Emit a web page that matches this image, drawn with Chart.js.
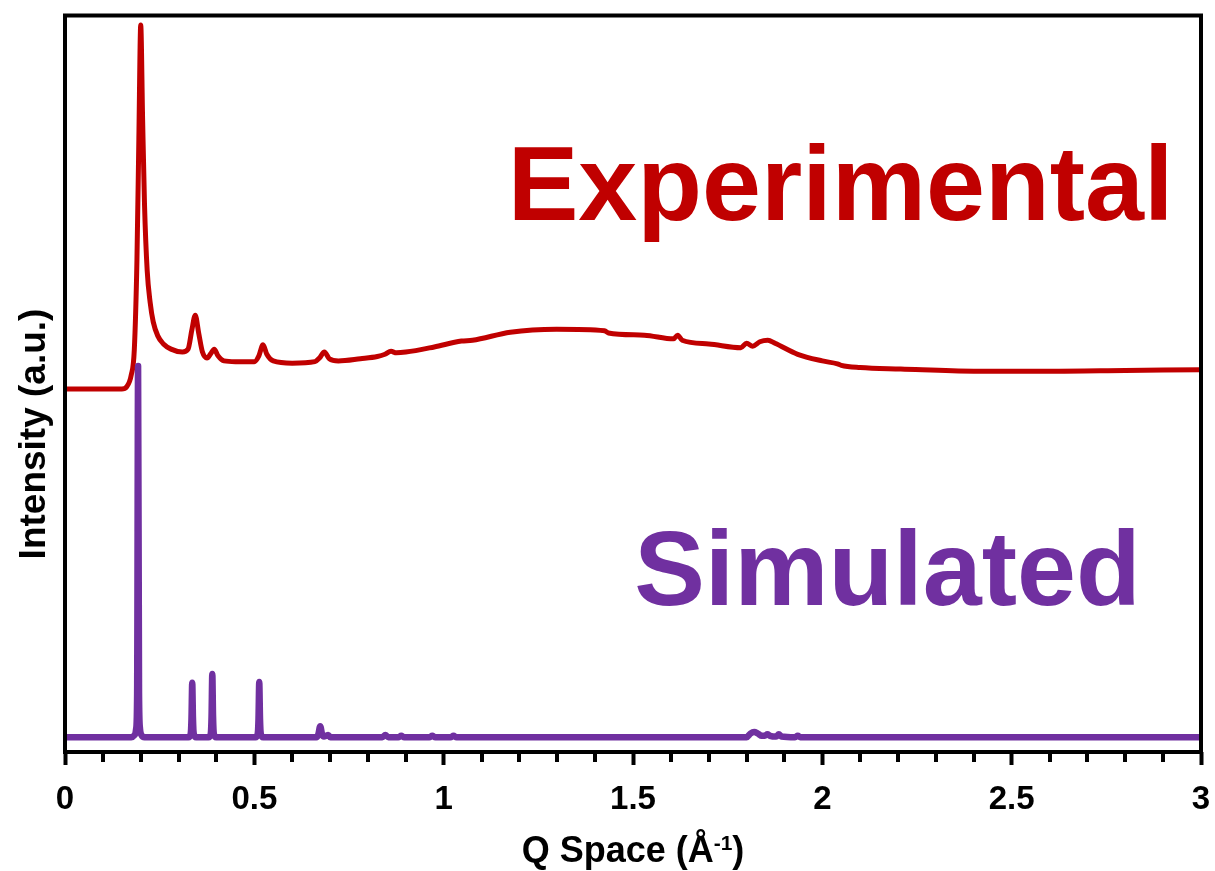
<!DOCTYPE html>
<html>
<head>
<meta charset="utf-8">
<title>Q Space patterns</title>
<script src="https://cdn.jsdelivr.net/npm/chart.js@4.4.1/dist/chart.umd.min.js"></script>
<style>
  html, body { margin: 0; padding: 0; background: #fff; }
  #wrap { width: 1215px; height: 871px; position: relative; }
</style>
</head>
<body>
<div id="wrap"><canvas id="pattern"></canvas></div>
<script>
// Experimental pattern: Q (1/Å) and intensity (a.u., offset above the simulated trace)
const qExp = [0, 0.15, 0.163, 0.175, 0.183, 0.19, 0.195, 0.2, 0.205, 0.21,
  0.217, 0.225, 0.233, 0.245, 0.26, 0.28, 0.31, 0.325, 0.335, 0.344,
  0.353, 0.363, 0.375, 0.385, 0.394, 0.404, 0.42, 0.45, 0.5, 0.512,
  0.523, 0.533, 0.55, 0.6, 0.66, 0.672, 0.685, 0.698, 0.722, 0.78,
  0.825, 0.845, 0.861, 0.875, 0.9, 0.975, 1.047, 1.076, 1.176, 1.298,
  1.425, 1.435, 1.53, 1.607, 1.618, 1.63, 1.7, 1.785, 1.8, 1.816,
  1.835, 1.856, 1.875, 1.935, 2.0, 2.04, 2.05, 2.1, 2.207, 2.4,
  2.6, 2.8, 3.0];
const intExp = [49.3, 49.3, 49.6, 51.2, 54.6, 66.8, 83.1, 98.7, 85.8, 74.3,
  65.4, 61.0, 58.4, 56.5, 55.4, 54.7, 54.3, 54.7, 57.3, 59.3,
  56.9, 54.3, 53.5, 54.1, 54.7, 53.8, 53.1, 53.0, 53.0, 53.8,
  55.3, 54.0, 53.1, 52.8, 53.0, 53.5, 54.3, 53.4, 53.1, 53.4,
  53.7, 54.0, 54.4, 54.2, 54.3, 55.0, 55.8, 55.9, 57.0, 57.4,
  57.2, 56.9, 56.6, 56.1, 56.6, 55.9, 55.4, 54.9, 55.5, 55.1,
  55.7, 55.9, 55.5, 54.0, 53.1, 52.7, 52.5, 52.2, 52.0, 51.7,
  51.7, 51.8, 51.9];

// Simulated pattern
const qSim = [0, 0.175, 0.184, 0.188, 0.1905, 0.193, 0.1955, 0.198, 0.202, 0.21,
  0.326, 0.332, 0.334, 0.336, 0.338, 0.34, 0.346,
  0.379, 0.385, 0.387, 0.389, 0.391, 0.393, 0.399,
  0.503, 0.509, 0.511, 0.513, 0.515, 0.517, 0.523,
  0.664, 0.669, 0.674, 0.679, 0.684, 0.69, 0.695, 0.701,
  0.838, 0.846, 0.854, 0.88, 0.888, 0.896, 0.962, 0.97, 0.978, 1.018, 1.026, 1.034,
  1.8, 1.81, 1.82, 1.83, 1.84, 1.848, 1.855, 1.862, 1.878, 1.885, 1.892, 1.928, 1.935, 1.942, 3.0];
const intSim = [2.0, 2.0, 2.3, 3.2, 8.0, 52.4, 8.0, 3.2, 2.3, 2.0,
  2.0, 2.5, 4.5, 9.4, 4.5, 2.5, 2.0,
  2.0, 2.5, 4.8, 10.6, 4.8, 2.5, 2.0,
  2.0, 2.5, 4.5, 9.5, 4.5, 2.5, 2.0,
  2.0, 2.4, 3.5, 2.4, 2.1, 2.2, 2.3, 2.0,
  2.0, 2.3, 2.0, 2.0, 2.2, 2.0, 2.0, 2.2, 2.0, 2.0, 2.2, 2.0,
  2.0, 2.5, 2.7, 2.5, 2.2, 2.2, 2.4, 2.2, 2.1, 2.4, 2.1, 2.0, 2.2, 2.0, 2.0];

const qRange = [0, 3];
const intRange = [0, 100];
const qMajorStep = 0.5;
const qMinorStep = 0.1;

// series captions: [text, Q of left edge, intensity of baseline]
const expCaption = ['Experimental', 1.169, 72.2];
const simCaption = ['Simulated', 1.503, 20.0];

const FONT = "'Liberation Sans', Arial, sans-serif";
const RED = '#C00000';
const PURPLE = '#7030A0';

function toPoints(xs, ys) {
    return xs.map((x, i) => ({ x: x, y: ys[i] }));
}

// frame, minor ticks, axis titles and the big series captions
const decorations = {
    id: 'decorations',
    afterDraw(chart) {
        const ctx = chart.ctx;
        const area = chart.chartArea;
        const xs = chart.scales.x;
        const ys = chart.scales.y;
        ctx.save();

        // captions
        ctx.font = 'bold 106px ' + FONT;
        ctx.textAlign = 'left';
        ctx.textBaseline = 'alphabetic';
        ctx.fillStyle = RED;
        ctx.fillText(expCaption[0], xs.getPixelForValue(expCaption[1]), ys.getPixelForValue(expCaption[2]));
        ctx.fillStyle = PURPLE;
        ctx.fillText(simCaption[0], xs.getPixelForValue(simCaption[1]), ys.getPixelForValue(simCaption[2]));

        // minor ticks
        ctx.strokeStyle = '#000';
        ctx.lineWidth = 4;
        const n = Math.round((qRange[1] - qRange[0]) / qMinorStep);
        const perMajor = Math.round(qMajorStep / qMinorStep);
        ctx.beginPath();
        for (let i = 1; i < n; i++) {
            if (i % perMajor === 0) continue;
            const px = Math.round(xs.getPixelForValue(qRange[0] + i * qMinorStep));
            ctx.moveTo(px, area.bottom);
            ctx.lineTo(px, area.bottom + 10);
        }
        ctx.stroke();

        // plot frame
        ctx.lineJoin = 'miter';
        ctx.strokeRect(area.left, area.top, area.right - area.left, area.bottom - area.top);

        // y title
        ctx.fillStyle = '#000';
        ctx.font = 'bold 37px ' + FONT;
        ctx.save();
        ctx.translate(35, 434);
        ctx.rotate(-Math.PI / 2);
        ctx.textAlign = 'center';
        ctx.textBaseline = 'middle';
        ctx.fillText('Intensity (a.u.)', 0, 0);
        ctx.restore();

        // x title with superscript
        const main = 'Q Space (Å';
        const sup = '-1';
        const tail = ')';
        ctx.textAlign = 'left';
        ctx.textBaseline = 'alphabetic';
        ctx.font = 'bold 36px ' + FONT;
        const wMain = ctx.measureText(main).width;
        const wTail = ctx.measureText(tail).width;
        ctx.font = 'bold 21px ' + FONT;
        const wSup = ctx.measureText(sup).width;
        const total = wMain + wSup + wTail;
        let x0 = (area.left + area.right) / 2 - total / 2;
        const base = 862;
        ctx.font = 'bold 36px ' + FONT;
        ctx.fillText(main, x0, base);
        ctx.font = 'bold 21px ' + FONT;
        ctx.fillText(sup, x0 + wMain, base - 12);
        ctx.font = 'bold 36px ' + FONT;
        ctx.fillText(tail, x0 + wMain + wSup, base);

        ctx.restore();
    }
};

new Chart(document.getElementById('pattern'), {
    type: 'line',
    data: {
        datasets: [{
            label: 'Experimental',
            data: toPoints(qExp, intExp),
            borderColor: RED,
            borderWidth: 5,
            pointRadius: 0,
            fill: false,
            cubicInterpolationMode: 'monotone',
            borderJoinStyle: 'round',
            borderCapStyle: 'round',
            order: 1
        }, {
            label: 'Simulated',
            data: toPoints(qSim, intSim),
            borderColor: PURPLE,
            borderWidth: 6.5,
            pointRadius: 0,
            fill: false,
            cubicInterpolationMode: 'monotone',
            borderJoinStyle: 'round',
            borderCapStyle: 'round',
            order: 0
        }]
    },
    options: {
        responsive: true,
        maintainAspectRatio: false,
        animation: false,
        layout: { padding: { left: 65, right: 14, top: 15.5, bottom: 0 } },
        plugins: {
            legend: { display: false },
            tooltip: { enabled: false }
        },
        scales: {
            x: {
                type: 'linear',
                min: qRange[0],
                max: qRange[1],
                ticks: {
                    stepSize: qMajorStep,
                    color: '#000',
                    padding: 15,
                    maxRotation: 0,
                    autoSkip: false,
                    font: { family: FONT, size: 33, weight: 'bold' },
                    callback: (v) => String(v)
                },
                grid: {
                    drawOnChartArea: false,
                    tickLength: 13,
                    tickWidth: 4,
                    tickColor: '#000'
                },
                border: { display: false },
                afterFit: (scale) => {
                    scale.height = 119;
                    // end labels fit inside the outer padding already
                    scale.paddingLeft = 0;
                    scale.paddingRight = 0;
                }
            },
            y: {
                display: false,
                min: intRange[0],
                max: intRange[1]
            }
        }
    },
    plugins: [decorations]
});
</script>
</body>
</html>
